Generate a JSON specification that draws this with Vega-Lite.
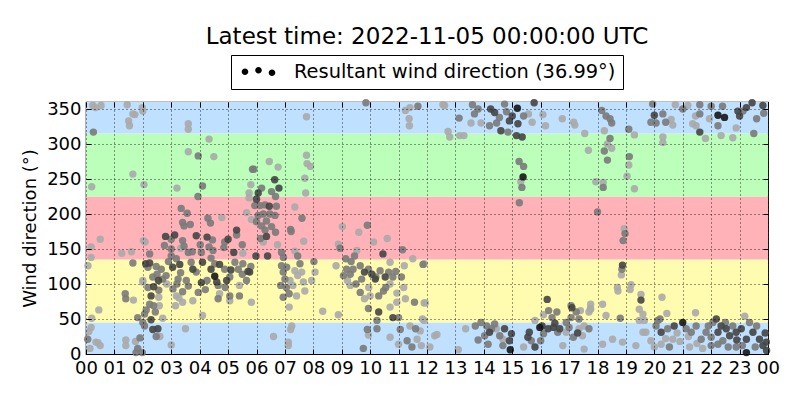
{
  "$schema": "https://vega.github.io/schema/vega-lite/v6.json",
  "autosize": {"type": "none"},
  "width": 682,
  "height": 252,
  "padding": {"left": 86, "top": 102, "right": 32, "bottom": 46},
  "background": "white",
  "title": {
    "text": "Latest time: 2022-11-05 00:00:00 UTC",
    "font": "DejaVu Sans",
    "fontSize": 23,
    "fontWeight": "normal",
    "color": "black",
    "anchor": "middle",
    "frame": "group",
    "offset": 6
  },
  "resolve": {"axis": {"x": "independent", "y": "independent"}},
  "layer": [
    {
      "data": {
        "values": [
          {"band": "blue", "lo": 0, "hi": 45},
          {"band": "yellow", "lo": 45, "hi": 135},
          {"band": "red", "lo": 135, "hi": 225},
          {"band": "green", "lo": 225, "hi": 315},
          {"band": "blue", "lo": 315, "hi": 360}
        ]
      },
      "mark": {"type": "rect"},
      "encoding": {
        "x": {
          "datum": 0,
          "type": "quantitative",
          "scale": {"domain": [0, 24], "nice": false, "zero": false},
          "axis": {
            "orient": "top",
            "title": null,
            "labels": false,
            "grid": false,
            "values": [0, 1, 2, 3, 4, 5, 6, 7, 8, 9, 10, 11, 12, 13, 14, 15, 16, 17, 18, 19, 20, 21, 22, 23, 24],
            "zindex": 1
          }
        },
        "x2": {"datum": 24},
        "y": {
          "field": "lo",
          "type": "quantitative",
          "scale": {"domain": [0, 360], "nice": false, "zero": false},
          "axis": {
            "orient": "left",
            "title": "Wind direction (°)",
            "grid": true,
            "values": [0, 50, 100, 150, 200, 250, 300, 350],
            "zindex": 1
          }
        },
        "y2": {"field": "hi"},
        "color": {
          "field": "band",
          "type": "nominal",
          "scale": {"domain": ["blue", "yellow", "red", "green"], "range": ["#bfe0ff", "#fffcb0", "#ffb3b8", "#bbffbb"]},
          "legend": null
        }
      }
    },
    {
      "data": {
        "values": [
          {"h": 0.24, "d": 355, "c": 0.05}, {"h": 0.33, "d": 352, "c": 0.05}, {"h": 0.53, "d": 355, "c": 0.05}, {"h": 1.45, "d": 356, "c": 0.05},
          {"h": 1.65, "d": 343, "c": 0.05}, {"h": 1.72, "d": 342, "c": 0.05}, {"h": 1.5, "d": 333, "c": 0.05}, {"h": 1.53, "d": 326, "c": 0.05},
          {"h": 1.98, "d": 352, "c": 0.05}, {"h": 2.0, "d": 347, "c": 0.05}, {"h": 0.26, "d": 317, "c": 0.3}, {"h": 0.2, "d": 239, "c": 0.05},
          {"h": 1.65, "d": 257, "c": 0.05}, {"h": 2.04, "d": 242, "c": 0.05}, {"h": 0.5, "d": 164, "c": 0.05}, {"h": 0.18, "d": 153, "c": 0.05},
          {"h": 0.18, "d": 138, "c": 0.05}, {"h": 1.6, "d": 146, "c": 0.05}, {"h": 2.02, "d": 162, "c": 0.05}, {"h": 2.24, "d": 143, "c": 0.3},
          {"h": 1.65, "d": 130, "c": 0.3}, {"h": 1.38, "d": 86, "c": 0.3}, {"h": 1.4, "d": 79, "c": 0.3}, {"h": 1.67, "d": 77, "c": 0.05},
          {"h": 0.45, "d": 63, "c": 0.05}, {"h": 0.2, "d": 51, "c": 0.05}, {"h": 0.18, "d": 38, "c": 0.05}, {"h": 0.1, "d": 32, "c": 0.05},
          {"h": 0.06, "d": 21, "c": 0.3}, {"h": 0.35, "d": 17, "c": 0.05}, {"h": 0.5, "d": 12, "c": 0.05}, {"h": 0.14, "d": 8, "c": 0.05},
          {"h": 0.07, "d": 126, "c": 0.05}, {"h": 1.26, "d": 144, "c": 0.05}, {"h": 2.0, "d": 103, "c": 0.05}, {"h": 2.18, "d": 124, "c": 0.3},
          {"h": 2.08, "d": 160, "c": 0.05}, {"h": 0.42, "d": 16, "c": 0.05},
          {"h": 1.4, "d": 20, "c": 0.05}, {"h": 1.4, "d": 12, "c": 0.05}, {"h": 1.74, "d": 18, "c": 0.05}, {"h": 1.9, "d": 23, "c": 0.3},
          {"h": 1.82, "d": 8, "c": 0.3}, {"h": 1.98, "d": 2, "c": 0.3}, {"h": 1.76, "d": 2, "c": 0.3},
          {"h": 2.1, "d": 129, "c": 0.6}, {"h": 2.24, "d": 130, "c": 0.6}, {"h": 2.47, "d": 125, "c": 0.3}, {"h": 2.35, "d": 110, "c": 0.3},
          {"h": 2.0, "d": 105, "c": 0.05}, {"h": 2.18, "d": 95, "c": 0.3}, {"h": 2.38, "d": 96, "c": 0.6}, {"h": 2.56, "d": 91, "c": 0.3},
          {"h": 2.29, "d": 83, "c": 0.6}, {"h": 2.56, "d": 81, "c": 0.05}, {"h": 2.38, "d": 69, "c": 0.3}, {"h": 2.58, "d": 69, "c": 0.05},
          {"h": 2.24, "d": 71, "c": 0.3}, {"h": 2.12, "d": 63, "c": 0.3}, {"h": 2.06, "d": 57, "c": 0.3}, {"h": 1.82, "d": 52, "c": 0.3},
          {"h": 2.0, "d": 45, "c": 0.3}, {"h": 2.29, "d": 49, "c": 0.6}, {"h": 2.44, "d": 60, "c": 0.3}, {"h": 2.7, "d": 51, "c": 0.05},
          {"h": 2.53, "d": 36, "c": 0.6}, {"h": 2.35, "d": 35, "c": 0.6}, {"h": 2.47, "d": 25, "c": 0.3}, {"h": 2.6, "d": 25, "c": 0.05},
          {"h": 2.06, "d": 40, "c": 0.3}, {"h": 3.0, "d": 13, "c": 0.05}, {"h": 3.5, "d": 36, "c": 0.05}, {"h": 2.5, "d": 114, "c": 0.3},
          {"h": 2.55, "d": 105, "c": 0.6}, {"h": 2.65, "d": 121, "c": 0.3}, {"h": 2.7, "d": 107, "c": 0.3}, {"h": 2.82, "d": 112, "c": 0.3},
          {"h": 2.84, "d": 100, "c": 0.05}, {"h": 2.9, "d": 132, "c": 0.3}, {"h": 3.05, "d": 124, "c": 0.6}, {"h": 3.0, "d": 140, "c": 0.3},
          {"h": 3.18, "d": 136, "c": 0.3}, {"h": 3.33, "d": 116, "c": 0.3}, {"h": 3.24, "d": 107, "c": 0.3}, {"h": 2.8, "d": 168, "c": 0.6},
          {"h": 3.0, "d": 164, "c": 0.3}, {"h": 2.76, "d": 155, "c": 0.3}, {"h": 3.0, "d": 150, "c": 0.3}, {"h": 3.12, "d": 170, "c": 0.6},
          {"h": 3.4, "d": 162, "c": 0.3}, {"h": 3.33, "d": 151, "c": 0.05}, {"h": 3.45, "d": 154, "c": 0.3}, {"h": 3.6, "d": 145, "c": 0.3},
          {"h": 3.74, "d": 146, "c": 0.3}, {"h": 3.35, "d": 208, "c": 0.3}, {"h": 3.56, "d": 201, "c": 0.3}, {"h": 3.4, "d": 188, "c": 0.3},
          {"h": 3.45, "d": 183, "c": 0.3}, {"h": 3.67, "d": 185, "c": 0.3}, {"h": 3.2, "d": 237, "c": 0.05}, {"h": 3.94, "d": 225, "c": 0.3},
          {"h": 4.1, "d": 240, "c": 0.3}, {"h": 3.6, "d": 289, "c": 0.05}, {"h": 3.95, "d": 283, "c": 0.3}, {"h": 4.5, "d": 282, "c": 0.05},
          {"h": 3.6, "d": 329, "c": 0.05}, {"h": 3.6, "d": 321, "c": 0.05}, {"h": 4.33, "d": 307, "c": 0.05},
          {"h": 3.88, "d": 169, "c": 0.6}, {"h": 4.26, "d": 167, "c": 0.6}, {"h": 4.02, "d": 156, "c": 0.3}, {"h": 4.33, "d": 153, "c": 0.3},
          {"h": 5.0, "d": 164, "c": 0.6}, {"h": 4.88, "d": 160, "c": 0.3}, {"h": 4.85, "d": 152, "c": 0.3}, {"h": 5.5, "d": 156, "c": 0.3},
          {"h": 5.52, "d": 144, "c": 0.05}, {"h": 5.2, "d": 145, "c": 0.6}, {"h": 4.47, "d": 148, "c": 0.3}, {"h": 4.4, "d": 137, "c": 0.3},
          {"h": 4.06, "d": 145, "c": 0.3}, {"h": 4.29, "d": 194, "c": 0.3}, {"h": 4.38, "d": 187, "c": 0.3}, {"h": 4.78, "d": 195, "c": 0.05},
          {"h": 5.65, "d": 202, "c": 0.05}, {"h": 5.3, "d": 177, "c": 0.6}, {"h": 5.82, "d": 192, "c": 0.05}, {"h": 5.3, "d": 170, "c": 0.3},
          {"h": 5.86, "d": 264, "c": 0.3}, {"h": 5.8, "d": 242, "c": 0.05}, {"h": 5.74, "d": 230, "c": 0.05}, {"h": 5.74, "d": 223, "c": 0.05},
          {"h": 3.7, "d": 131, "c": 0.3}, {"h": 3.76, "d": 121, "c": 0.6}, {"h": 3.53, "d": 105, "c": 0.3}, {"h": 3.88, "d": 117, "c": 0.3},
          {"h": 4.1, "d": 131, "c": 0.6}, {"h": 4.06, "d": 102, "c": 0.6}, {"h": 3.95, "d": 88, "c": 0.3}, {"h": 4.26, "d": 105, "c": 0.3},
          {"h": 4.4, "d": 121, "c": 0.6}, {"h": 4.53, "d": 111, "c": 0.9}, {"h": 4.6, "d": 103, "c": 0.6}, {"h": 4.65, "d": 98, "c": 0.3},
          {"h": 4.53, "d": 129, "c": 0.3}, {"h": 4.7, "d": 128, "c": 0.6}, {"h": 4.88, "d": 121, "c": 0.3}, {"h": 5.06, "d": 110, "c": 0.3},
          {"h": 4.95, "d": 105, "c": 0.6}, {"h": 5.24, "d": 131, "c": 0.3}, {"h": 5.36, "d": 121, "c": 0.3}, {"h": 5.5, "d": 114, "c": 0.3},
          {"h": 5.65, "d": 105, "c": 0.3}, {"h": 5.4, "d": 98, "c": 0.05}, {"h": 5.7, "d": 118, "c": 0.6}, {"h": 5.52, "d": 129, "c": 0.3},
          {"h": 3.06, "d": 93, "c": 0.3}, {"h": 3.18, "d": 83, "c": 0.05}, {"h": 3.4, "d": 89, "c": 0.3}, {"h": 3.27, "d": 80, "c": 0.05},
          {"h": 3.15, "d": 69, "c": 0.05}, {"h": 3.4, "d": 74, "c": 0.05}, {"h": 3.76, "d": 76, "c": 0.05}, {"h": 4.1, "d": 55, "c": 0.05},
          {"h": 4.7, "d": 86, "c": 0.05}, {"h": 4.65, "d": 79, "c": 0.3}, {"h": 5.06, "d": 83, "c": 0.3}, {"h": 5.06, "d": 76, "c": 0.05},
          {"h": 5.4, "d": 83, "c": 0.3}, {"h": 3.2, "d": 100, "c": 0.3}, {"h": 3.6, "d": 97, "c": 0.3}, {"h": 4.2, "d": 92, "c": 0.3},
          {"h": 4.9, "d": 95, "c": 0.3}, {"h": 5.1, "d": 120, "c": 0.6}, {"h": 5.8, "d": 125, "c": 0.3}, {"h": 3.3, "d": 128, "c": 0.6},
          {"h": 4.45, "d": 163, "c": 0.3},
          {"h": 5.9, "d": 264, "c": 0.3}, {"h": 6.45, "d": 275, "c": 0.05}, {"h": 6.76, "d": 267, "c": 0.05}, {"h": 6.64, "d": 249, "c": 0.6},
          {"h": 6.79, "d": 237, "c": 0.6}, {"h": 6.18, "d": 237, "c": 0.3}, {"h": 6.53, "d": 232, "c": 0.3}, {"h": 6.67, "d": 225, "c": 0.3},
          {"h": 7.7, "d": 251, "c": 0.05}, {"h": 7.73, "d": 230, "c": 0.05}, {"h": 7.76, "d": 284, "c": 0.05}, {"h": 7.78, "d": 272, "c": 0.05},
          {"h": 7.9, "d": 268, "c": 0.05}, {"h": 7.76, "d": 339, "c": 0.05}, {"h": 6.06, "d": 230, "c": 0.6}, {"h": 6.0, "d": 221, "c": 0.6},
          {"h": 5.94, "d": 212, "c": 0.3}, {"h": 6.12, "d": 212, "c": 0.3}, {"h": 6.3, "d": 213, "c": 0.3}, {"h": 6.45, "d": 211, "c": 0.6},
          {"h": 6.7, "d": 211, "c": 0.3}, {"h": 6.47, "d": 200, "c": 0.3}, {"h": 6.65, "d": 198, "c": 0.3}, {"h": 6.24, "d": 200, "c": 0.3},
          {"h": 6.06, "d": 198, "c": 0.3}, {"h": 6.0, "d": 189, "c": 0.3}, {"h": 6.18, "d": 183, "c": 0.3}, {"h": 6.35, "d": 190, "c": 0.3},
          {"h": 6.53, "d": 182, "c": 0.3}, {"h": 6.3, "d": 177, "c": 0.3}, {"h": 6.67, "d": 174, "c": 0.3}, {"h": 6.35, "d": 168, "c": 0.6},
          {"h": 6.14, "d": 165, "c": 0.3}, {"h": 6.24, "d": 160, "c": 0.05}, {"h": 7.35, "d": 210, "c": 0.05}, {"h": 7.6, "d": 194, "c": 0.3},
          {"h": 7.2, "d": 178, "c": 0.3}, {"h": 7.22, "d": 175, "c": 0.3}, {"h": 7.66, "d": 161, "c": 0.05}, {"h": 6.74, "d": 156, "c": 0.05},
          {"h": 5.98, "d": 140, "c": 0.6}, {"h": 6.39, "d": 140, "c": 0.6}, {"h": 6.88, "d": 145, "c": 0.3}, {"h": 6.95, "d": 138, "c": 0.3},
          {"h": 7.35, "d": 147, "c": 0.05}, {"h": 7.45, "d": 140, "c": 0.3}, {"h": 6.88, "d": 126, "c": 0.3}, {"h": 7.06, "d": 124, "c": 0.3},
          {"h": 6.94, "d": 117, "c": 0.3}, {"h": 7.0, "d": 107, "c": 0.3}, {"h": 7.18, "d": 105, "c": 0.05}, {"h": 6.85, "d": 98, "c": 0.3},
          {"h": 7.35, "d": 119, "c": 0.05}, {"h": 7.53, "d": 129, "c": 0.3}, {"h": 7.59, "d": 117, "c": 0.05}, {"h": 7.45, "d": 112, "c": 0.05},
          {"h": 7.65, "d": 103, "c": 0.05}, {"h": 7.7, "d": 90, "c": 0.05}, {"h": 7.41, "d": 83, "c": 0.05}, {"h": 7.15, "d": 86, "c": 0.3},
          {"h": 6.94, "d": 81, "c": 0.3}, {"h": 7.15, "d": 67, "c": 0.05}, {"h": 8.06, "d": 117, "c": 0.05}, {"h": 7.94, "d": 105, "c": 0.05},
          {"h": 8.02, "d": 132, "c": 0.3}, {"h": 8.33, "d": 61, "c": 0.05}, {"h": 8.88, "d": 56, "c": 0.05}, {"h": 5.76, "d": 117, "c": 0.6},
          {"h": 5.82, "d": 74, "c": 0.05}, {"h": 7.24, "d": 40, "c": 0.05}, {"h": 7.2, "d": 35, "c": 0.05}, {"h": 6.6, "d": 25, "c": 0.05},
          {"h": 7.12, "d": 17, "c": 0.05}, {"h": 7.12, "d": 12, "c": 0.05}, {"h": 7.05, "d": 95, "c": 0.3}, {"h": 7.28, "d": 98, "c": 0.05},
          {"h": 9.02, "d": 182, "c": 0.05}, {"h": 9.9, "d": 184, "c": 0.3}, {"h": 9.6, "d": 174, "c": 0.05}, {"h": 8.88, "d": 157, "c": 0.05},
          {"h": 8.94, "d": 151, "c": 0.3}, {"h": 9.53, "d": 148, "c": 0.05}, {"h": 9.45, "d": 140, "c": 0.3}, {"h": 9.33, "d": 132, "c": 0.3},
          {"h": 9.14, "d": 136, "c": 0.3}, {"h": 10.12, "d": 160, "c": 0.05}, {"h": 10.45, "d": 143, "c": 0.6}, {"h": 10.6, "d": 165, "c": 0.05},
          {"h": 11.14, "d": 149, "c": 0.3}, {"h": 11.5, "d": 136, "c": 0.05}, {"h": 11.9, "d": 129, "c": 0.05}, {"h": 11.2, "d": 126, "c": 0.05},
          {"h": 10.7, "d": 131, "c": 0.05}, {"h": 8.8, "d": 126, "c": 0.05}, {"h": 9.17, "d": 121, "c": 0.3}, {"h": 9.06, "d": 112, "c": 0.3},
          {"h": 9.3, "d": 114, "c": 0.3}, {"h": 9.4, "d": 121, "c": 0.3}, {"h": 9.65, "d": 126, "c": 0.3}, {"h": 9.8, "d": 117, "c": 0.6},
          {"h": 9.7, "d": 107, "c": 0.3}, {"h": 9.5, "d": 100, "c": 0.3}, {"h": 9.3, "d": 98, "c": 0.05}, {"h": 9.94, "d": 121, "c": 0.3},
          {"h": 10.06, "d": 114, "c": 0.6}, {"h": 10.18, "d": 107, "c": 0.6}, {"h": 10.35, "d": 119, "c": 0.3}, {"h": 10.53, "d": 110, "c": 0.6},
          {"h": 10.65, "d": 117, "c": 0.3}, {"h": 10.8, "d": 110, "c": 0.3}, {"h": 10.9, "d": 118, "c": 0.3}, {"h": 10.7, "d": 100, "c": 0.05},
          {"h": 10.47, "d": 90, "c": 0.3}, {"h": 10.3, "d": 83, "c": 0.3}, {"h": 10.0, "d": 83, "c": 0.05}, {"h": 9.8, "d": 79, "c": 0.05},
          {"h": 9.94, "d": 65, "c": 0.3}, {"h": 9.65, "d": 88, "c": 0.3}, {"h": 10.94, "d": 87, "c": 0.05}, {"h": 11.18, "d": 95, "c": 0.05},
          {"h": 11.24, "d": 79, "c": 0.05}, {"h": 11.56, "d": 74, "c": 0.3}, {"h": 10.7, "d": 67, "c": 0.05}, {"h": 10.94, "d": 74, "c": 0.05},
          {"h": 10.3, "d": 60, "c": 0.6}, {"h": 10.8, "d": 52, "c": 0.6}, {"h": 11.0, "d": 52, "c": 0.3}, {"h": 11.9, "d": 73, "c": 0.05},
          {"h": 10.24, "d": 48, "c": 0.3}, {"h": 10.24, "d": 36, "c": 0.3}, {"h": 9.9, "d": 35, "c": 0.3}, {"h": 9.94, "d": 27, "c": 0.05},
          {"h": 9.76, "d": 8, "c": 0.3}, {"h": 10.7, "d": 24, "c": 0.05}, {"h": 11.06, "d": 35, "c": 0.3}, {"h": 11.0, "d": 14, "c": 0.05},
          {"h": 11.3, "d": 19, "c": 0.3}, {"h": 11.47, "d": 10, "c": 0.3}, {"h": 11.65, "d": 21, "c": 0.05}, {"h": 11.76, "d": 33, "c": 0.05},
          {"h": 11.6, "d": 36, "c": 0.3}, {"h": 11.9, "d": 48, "c": 0.05}, {"h": 11.8, "d": 12, "c": 0.05}, {"h": 11.4, "d": 40, "c": 0.05},
          {"h": 9.85, "d": 359, "c": 0.3}, {"h": 11.24, "d": 348, "c": 0.05}, {"h": 11.4, "d": 352, "c": 0.05}, {"h": 11.68, "d": 354, "c": 0.3},
          {"h": 11.37, "d": 336, "c": 0.05}, {"h": 11.38, "d": 326, "c": 0.05}, {"h": 10.2, "d": 110, "c": 0.3}, {"h": 9.95, "d": 95, "c": 0.05},
          {"h": 10.55, "d": 95, "c": 0.3}, {"h": 11.1, "d": 110, "c": 0.3}, {"h": 9.2, "d": 105, "c": 0.05},
          {"h": 11.86, "d": 128, "c": 0.3}, {"h": 11.94, "d": 73, "c": 0.05}, {"h": 11.84, "d": 50, "c": 0.05}, {"h": 12.56, "d": 356, "c": 0.05},
          {"h": 12.62, "d": 355, "c": 0.05}, {"h": 13.6, "d": 356, "c": 0.3}, {"h": 13.8, "d": 350, "c": 0.3}, {"h": 13.55, "d": 330, "c": 0.05},
          {"h": 13.9, "d": 330, "c": 0.05}, {"h": 13.67, "d": 343, "c": 0.3}, {"h": 13.13, "d": 337, "c": 0.3}, {"h": 12.74, "d": 318, "c": 0.05},
          {"h": 12.8, "d": 310, "c": 0.05}, {"h": 13.15, "d": 312, "c": 0.05}, {"h": 13.3, "d": 312, "c": 0.05}, {"h": 14.24, "d": 350, "c": 0.6},
          {"h": 14.38, "d": 345, "c": 0.6}, {"h": 14.55, "d": 338, "c": 0.3}, {"h": 14.6, "d": 319, "c": 0.6}, {"h": 14.73, "d": 357, "c": 0.3},
          {"h": 14.8, "d": 346, "c": 0.3}, {"h": 14.9, "d": 333, "c": 0.6}, {"h": 15.0, "d": 340, "c": 0.6}, {"h": 15.18, "d": 351, "c": 0.9},
          {"h": 15.2, "d": 329, "c": 0.6}, {"h": 15.15, "d": 312, "c": 0.6}, {"h": 15.35, "d": 310, "c": 0.6}, {"h": 15.4, "d": 340, "c": 0.3},
          {"h": 15.57, "d": 343, "c": 0.05}, {"h": 15.7, "d": 331, "c": 0.05}, {"h": 15.77, "d": 359, "c": 0.6}, {"h": 14.85, "d": 317, "c": 0.3},
          {"h": 14.2, "d": 326, "c": 0.3}, {"h": 14.45, "d": 330, "c": 0.3}, {"h": 16.08, "d": 342, "c": 0.05}, {"h": 16.17, "d": 326, "c": 0.05},
          {"h": 16.76, "d": 336, "c": 0.05}, {"h": 17.16, "d": 331, "c": 0.05}, {"h": 17.2, "d": 327, "c": 0.05}, {"h": 17.55, "d": 315, "c": 0.05},
          {"h": 17.68, "d": 291, "c": 0.05}, {"h": 15.24, "d": 275, "c": 0.3}, {"h": 15.4, "d": 268, "c": 0.3}, {"h": 15.38, "d": 253, "c": 0.9},
          {"h": 15.3, "d": 246, "c": 0.05}, {"h": 15.34, "d": 238, "c": 0.3}, {"h": 15.25, "d": 216, "c": 0.3},
          {"h": 12.27, "d": 26, "c": 0.05}, {"h": 12.35, "d": 28, "c": 0.05}, {"h": 12.1, "d": 10, "c": 0.05}, {"h": 13.1, "d": 6, "c": 0.05},
          {"h": 13.36, "d": 36, "c": 0.05}, {"h": 13.7, "d": 40, "c": 0.3}, {"h": 13.9, "d": 45, "c": 0.3}, {"h": 14.1, "d": 40, "c": 0.3},
          {"h": 14.2, "d": 31, "c": 0.6}, {"h": 14.03, "d": 26, "c": 0.3}, {"h": 13.8, "d": 20, "c": 0.3}, {"h": 14.15, "d": 14, "c": 0.3},
          {"h": 14.27, "d": 36, "c": 0.3}, {"h": 14.44, "d": 36, "c": 0.05}, {"h": 14.56, "d": 26, "c": 0.3}, {"h": 14.67, "d": 21, "c": 0.05},
          {"h": 14.73, "d": 36, "c": 0.6}, {"h": 14.97, "d": 29, "c": 0.6}, {"h": 14.9, "d": 19, "c": 0.6}, {"h": 14.93, "d": 6, "c": 0.9},
          {"h": 14.67, "d": 12, "c": 0.3}, {"h": 14.38, "d": 43, "c": 0.3}, {"h": 16.23, "d": 78, "c": 0.6}, {"h": 16.28, "d": 62, "c": 0.3},
          {"h": 16.57, "d": 60, "c": 0.3}, {"h": 16.4, "d": 52, "c": 0.3}, {"h": 16.1, "d": 56, "c": 0.05}, {"h": 15.8, "d": 48, "c": 0.05},
          {"h": 15.97, "d": 38, "c": 0.9}, {"h": 16.05, "d": 40, "c": 0.6}, {"h": 15.6, "d": 31, "c": 0.6}, {"h": 15.55, "d": 24, "c": 0.6},
          {"h": 15.67, "d": 19, "c": 0.3}, {"h": 15.8, "d": 10, "c": 0.6}, {"h": 15.4, "d": 10, "c": 0.05}, {"h": 16.1, "d": 29, "c": 0.3},
          {"h": 16.26, "d": 36, "c": 0.6}, {"h": 16.45, "d": 38, "c": 0.6}, {"h": 16.6, "d": 31, "c": 0.3}, {"h": 16.67, "d": 36, "c": 0.6},
          {"h": 16.9, "d": 45, "c": 0.3}, {"h": 17.07, "d": 69, "c": 0.3}, {"h": 17.25, "d": 60, "c": 0.3}, {"h": 17.4, "d": 62, "c": 0.05},
          {"h": 17.35, "d": 50, "c": 0.3}, {"h": 17.07, "d": 52, "c": 0.3}, {"h": 17.0, "d": 38, "c": 0.3}, {"h": 16.9, "d": 31, "c": 0.05},
          {"h": 17.15, "d": 24, "c": 0.3}, {"h": 17.35, "d": 36, "c": 0.05}, {"h": 17.47, "d": 26, "c": 0.05}, {"h": 17.53, "d": 40, "c": 0.05},
          {"h": 17.7, "d": 36, "c": 0.3}, {"h": 16.78, "d": 12, "c": 0.05}, {"h": 17.53, "d": 7, "c": 0.05}, {"h": 16.0, "d": 19, "c": 0.3},
          {"h": 16.5, "d": 44, "c": 0.6}, {"h": 17.1, "d": 66, "c": 0.6}, {"h": 17.7, "d": 60, "c": 0.05}, {"h": 17.75, "d": 65, "c": 0.05},
          {"h": 17.3, "d": 30, "c": 0.6},
          {"h": 18.15, "d": 348, "c": 0.3}, {"h": 18.3, "d": 340, "c": 0.3}, {"h": 18.44, "d": 336, "c": 0.3}, {"h": 18.5, "d": 330, "c": 0.3},
          {"h": 18.24, "d": 319, "c": 0.05}, {"h": 18.44, "d": 308, "c": 0.3}, {"h": 18.5, "d": 294, "c": 0.05}, {"h": 18.24, "d": 290, "c": 0.3},
          {"h": 18.35, "d": 300, "c": 0.05}, {"h": 18.35, "d": 277, "c": 0.3}, {"h": 19.1, "d": 321, "c": 0.3}, {"h": 19.3, "d": 313, "c": 0.05},
          {"h": 19.12, "d": 282, "c": 0.3}, {"h": 19.1, "d": 270, "c": 0.05}, {"h": 19.04, "d": 254, "c": 0.05}, {"h": 19.3, "d": 236, "c": 0.05},
          {"h": 17.94, "d": 246, "c": 0.05}, {"h": 18.2, "d": 245, "c": 0.05}, {"h": 18.2, "d": 238, "c": 0.3}, {"h": 18.0, "d": 203, "c": 0.3},
          {"h": 18.94, "d": 179, "c": 0.05}, {"h": 18.97, "d": 172, "c": 0.3}, {"h": 18.9, "d": 162, "c": 0.3}, {"h": 18.88, "d": 127, "c": 0.6},
          {"h": 18.86, "d": 121, "c": 0.3}, {"h": 18.84, "d": 113, "c": 0.05}, {"h": 19.18, "d": 99, "c": 0.05}, {"h": 19.15, "d": 92, "c": 0.05},
          {"h": 18.7, "d": 95, "c": 0.05}, {"h": 18.72, "d": 90, "c": 0.05}, {"h": 19.53, "d": 85, "c": 0.05}, {"h": 19.53, "d": 77, "c": 0.6},
          {"h": 20.27, "d": 81, "c": 0.05}, {"h": 18.18, "d": 71, "c": 0.05}, {"h": 17.76, "d": 71, "c": 0.05}, {"h": 17.76, "d": 64, "c": 0.05},
          {"h": 18.3, "d": 55, "c": 0.05}, {"h": 18.8, "d": 51, "c": 0.3}, {"h": 19.47, "d": 64, "c": 0.05}, {"h": 19.6, "d": 57, "c": 0.05},
          {"h": 19.47, "d": 48, "c": 0.05}, {"h": 19.65, "d": 48, "c": 0.05}, {"h": 20.44, "d": 58, "c": 0.05}, {"h": 21.45, "d": 59, "c": 0.05},
          {"h": 23.18, "d": 54, "c": 0.05},
          {"h": 19.94, "d": 357, "c": 0.3}, {"h": 20.0, "d": 341, "c": 0.6}, {"h": 19.88, "d": 331, "c": 0.3}, {"h": 20.06, "d": 330, "c": 0.3},
          {"h": 20.3, "d": 343, "c": 0.3}, {"h": 20.4, "d": 331, "c": 0.3}, {"h": 20.59, "d": 335, "c": 0.05}, {"h": 20.65, "d": 327, "c": 0.05},
          {"h": 20.3, "d": 310, "c": 0.05}, {"h": 20.3, "d": 302, "c": 0.05}, {"h": 20.74, "d": 356, "c": 0.05}, {"h": 21.18, "d": 355, "c": 0.05},
          {"h": 21.6, "d": 356, "c": 0.3}, {"h": 21.6, "d": 343, "c": 0.3}, {"h": 21.35, "d": 329, "c": 0.05}, {"h": 21.47, "d": 326, "c": 0.05},
          {"h": 21.6, "d": 317, "c": 0.6}, {"h": 21.8, "d": 308, "c": 0.05}, {"h": 21.94, "d": 336, "c": 0.05}, {"h": 22.0, "d": 354, "c": 0.3},
          {"h": 22.24, "d": 341, "c": 0.9}, {"h": 22.47, "d": 338, "c": 0.9}, {"h": 22.4, "d": 354, "c": 0.3}, {"h": 22.24, "d": 326, "c": 0.3},
          {"h": 22.35, "d": 312, "c": 0.05}, {"h": 22.76, "d": 309, "c": 0.05}, {"h": 22.88, "d": 323, "c": 0.05}, {"h": 22.94, "d": 347, "c": 0.6},
          {"h": 23.12, "d": 347, "c": 0.3}, {"h": 23.24, "d": 352, "c": 0.6}, {"h": 23.44, "d": 359, "c": 0.6}, {"h": 23.82, "d": 355, "c": 0.6},
          {"h": 23.85, "d": 344, "c": 0.3}, {"h": 23.5, "d": 315, "c": 0.3}, {"h": 21.0, "d": 350, "c": 0.3}, {"h": 21.45, "d": 340, "c": 0.05},
          {"h": 23.0, "d": 340, "c": 0.6}, {"h": 23.6, "d": 336, "c": 0.3},
          {"h": 19.7, "d": 31, "c": 0.05}, {"h": 20.06, "d": 40, "c": 0.3}, {"h": 20.24, "d": 31, "c": 0.6}, {"h": 20.47, "d": 36, "c": 0.3},
          {"h": 20.7, "d": 40, "c": 0.6}, {"h": 21.0, "d": 45, "c": 0.9}, {"h": 21.12, "d": 36, "c": 0.3}, {"h": 21.3, "d": 31, "c": 0.3},
          {"h": 21.47, "d": 40, "c": 0.3}, {"h": 20.65, "d": 21, "c": 0.05}, {"h": 20.4, "d": 22, "c": 0.05}, {"h": 20.24, "d": 14, "c": 0.05},
          {"h": 20.53, "d": 10, "c": 0.3}, {"h": 20.9, "d": 18, "c": 0.05}, {"h": 21.24, "d": 10, "c": 0.05}, {"h": 21.65, "d": 21, "c": 0.3},
          {"h": 21.82, "d": 31, "c": 0.3}, {"h": 22.06, "d": 45, "c": 0.3}, {"h": 22.18, "d": 50, "c": 0.6}, {"h": 22.35, "d": 40, "c": 0.6},
          {"h": 22.24, "d": 31, "c": 0.6}, {"h": 22.53, "d": 36, "c": 0.6}, {"h": 22.65, "d": 26, "c": 0.6}, {"h": 22.41, "d": 19, "c": 0.3},
          {"h": 22.24, "d": 14, "c": 0.3}, {"h": 22.76, "d": 40, "c": 0.3}, {"h": 22.88, "d": 31, "c": 0.6}, {"h": 23.06, "d": 36, "c": 0.6},
          {"h": 23.24, "d": 21, "c": 0.6}, {"h": 23.47, "d": 31, "c": 0.6}, {"h": 23.6, "d": 40, "c": 0.3}, {"h": 23.7, "d": 21, "c": 0.6},
          {"h": 23.82, "d": 12, "c": 0.6}, {"h": 23.94, "d": 17, "c": 0.6}, {"h": 23.24, "d": 2, "c": 0.9}, {"h": 23.1, "d": 12, "c": 0.3},
          {"h": 22.88, "d": 10, "c": 0.3}, {"h": 22.6, "d": 10, "c": 0.3}, {"h": 22.0, "d": 24, "c": 0.3}, {"h": 22.0, "d": 12, "c": 0.3},
          {"h": 21.7, "d": 8, "c": 0.05}, {"h": 20.8, "d": 30, "c": 0.05}, {"h": 19.88, "d": 19, "c": 0.05}, {"h": 19.6, "d": 31, "c": 0.05},
          {"h": 19.35, "d": 12, "c": 0.05}, {"h": 18.53, "d": 21, "c": 0.05}, {"h": 18.18, "d": 14, "c": 0.05}, {"h": 18.88, "d": 17, "c": 0.05},
          {"h": 20.0, "d": 10, "c": 0.05}, {"h": 20.12, "d": 48, "c": 0.3}, {"h": 21.2, "d": 25, "c": 0.05}, {"h": 21.5, "d": 15, "c": 0.05},
          {"h": 22.5, "d": 45, "c": 0.3}, {"h": 23.35, "d": 45, "c": 0.3}, {"h": 23.9, "d": 30, "c": 0.6}, {"h": 23.95, "d": 5, "c": 0.6},
          {"h": 23.55, "d": 10, "c": 0.3}, {"h": 22.9, "d": 20, "c": 0.6}, {"h": 21.9, "d": 40, "c": 0.3}, {"h": 20.2, "d": 50, "c": 0.3}
        ]
      },
      "mark": {"type": "circle", "size": 55, "opacity": 0.9},
      "encoding": {
        "x": {
          "field": "h",
          "type": "quantitative",
          "scale": {"domain": [0, 24], "nice": false, "zero": false},
          "axis": {
            "orient": "bottom",
            "title": null,
            "grid": true,
            "values": [0, 1, 2, 3, 4, 5, 6, 7, 8, 9, 10, 11, 12, 13, 14, 15, 16, 17, 18, 19, 20, 21, 22, 23, 24],
            "labelExpr": "(datum.value % 24) < 10 ? '0' + (datum.value % 24) : '' + (datum.value % 24)",
            "zindex": 1
          }
        },
        "y": {
          "field": "d",
          "type": "quantitative",
          "scale": {"domain": [0, 360], "nice": false, "zero": false},
          "axis": {
            "orient": "right",
            "title": null,
            "labels": false,
            "grid": false,
            "values": [0, 50, 100, 150, 200, 250, 300, 350],
            "zindex": 1
          }
        },
        "color": {
          "field": "c",
          "type": "quantitative",
          "scale": {"domain": [0, 1], "range": ["#b4b4b4", "#000000"]},
          "legend": null
        },
        "order": {"field": "c", "type": "quantitative"}
      }
    },
    {
      "data": {"values": [{"label": "Resultant wind direction (36.99°)"}]},
      "mark": {"type": "point", "filled": true, "color": "black", "opacity": 0},
      "encoding": {
        "shape": {
          "field": "label",
          "type": "nominal",
          "scale": {
            "domain": ["Resultant wind direction (36.99°)"],
            "range": ["M -0.63 -0.02 A 0.33 0.33 0 1 0 0.03 -0.02 A 0.33 0.33 0 1 0 -0.63 -0.02 Z M 0.72 -0.18 A 0.33 0.33 0 1 0 1.38 -0.18 A 0.33 0.33 0 1 0 0.72 -0.18 Z M 2.07 0.08 A 0.33 0.33 0 1 0 2.73 0.08 A 0.33 0.33 0 1 0 2.07 0.08 Z"]
          },
          "legend": {
            "title": null,
            "orient": "none",
            "legendX": 145,
            "legendY": -47,
            "padding": 7,
            "strokeColor": "black",
            "fillColor": "white",
            "symbolSize": 400,
            "symbolOpacity": 1,
            "symbolFillColor": "black",
            "symbolStrokeWidth": 0,
            "labelOffset": 36,
            "labelFont": "DejaVu Sans",
            "labelFontSize": 19.4,
            "labelColor": "black",
            "labelLimit": 0
          }
        }
      }
    }
  ],
  "config": {
    "view": {"stroke": "black", "strokeWidth": 1.2},
    "axis": {
      "domain": false,
      "gridColor": "black",
      "gridDash": [1, 3],
      "gridWidth": 0.8,
      "gridOpacity": 1,
      "ticks": true,
      "tickColor": "black",
      "tickSize": -5,
      "tickWidth": 1,
      "labelFont": "DejaVu Sans",
      "labelFontSize": 18,
      "labelColor": "black",
      "labelPadding": 10,
      "labelFlush": false,
      "labelOverlap": false,
      "labelBound": false,
      "titleFont": "DejaVu Sans",
      "titleFontSize": 18,
      "titleFontWeight": "normal",
      "titleColor": "black",
      "titlePadding": 7
    }
  }
}
